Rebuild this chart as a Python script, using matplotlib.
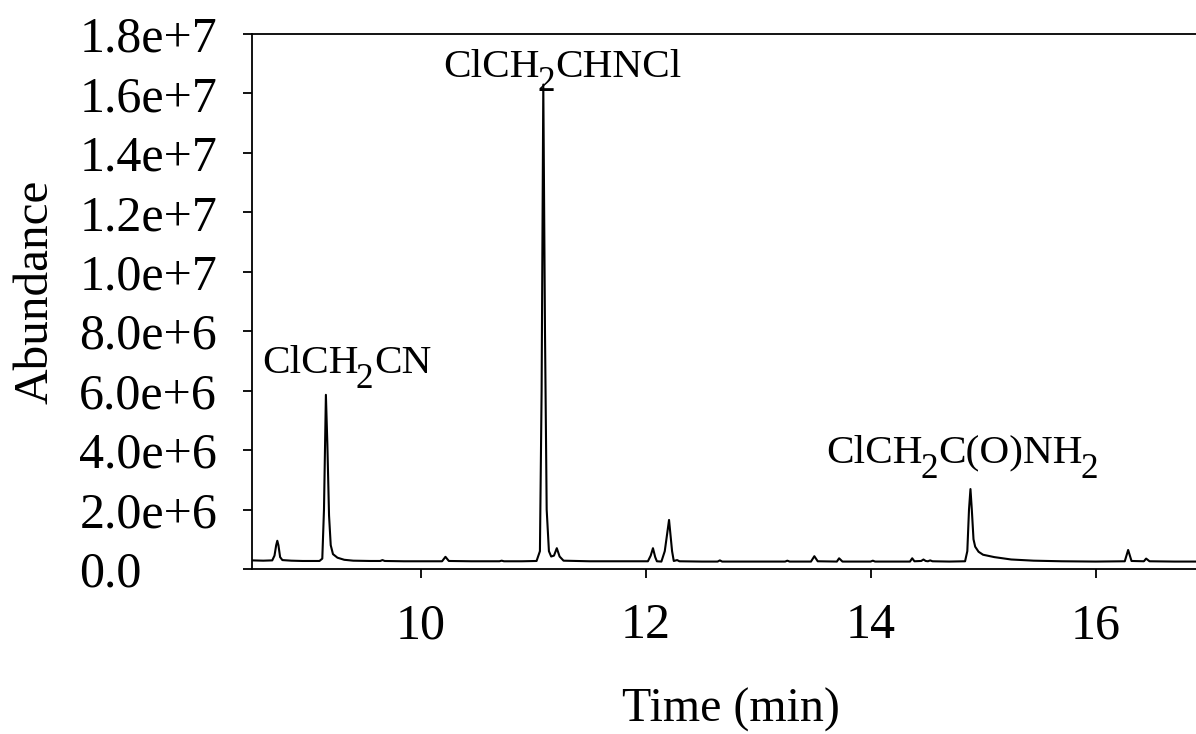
import matplotlib
matplotlib.use("Agg")
import matplotlib.pyplot as plt
import numpy as np

time_min = [
    8.50, 8.60, 8.68, 8.70, 8.715, 8.725, 8.735, 8.75, 8.77, 8.85, 8.95, 9.05,
    9.10, 9.125, 9.14, 9.157, 9.17, 9.185, 9.20, 9.22, 9.26, 9.32, 9.40, 9.55,
    9.64, 9.66, 9.68, 9.85, 10.05, 10.19, 10.22, 10.25, 10.45, 10.70, 10.72, 10.74, 10.90,
    11.03, 11.06, 11.075, 11.09, 11.105, 11.12, 11.14, 11.16, 11.185, 11.21, 11.235, 11.27,
    11.50, 11.80, 12.02, 12.045, 12.065, 12.085, 12.10, 12.14, 12.17, 12.208, 12.235, 12.25,
    12.28, 12.30, 12.50, 12.64, 12.66, 12.68, 13.00, 13.24, 13.26, 13.28,
    13.47, 13.50, 13.53, 13.70, 13.72, 13.75, 14.00, 14.02, 14.04, 14.20,
    14.35, 14.37, 14.39, 14.45, 14.47, 14.49, 14.51, 14.53, 14.55, 14.70,
    14.84, 14.86, 14.875, 14.888, 14.90, 14.915, 14.93, 14.96, 15.00, 15.10,
    15.25, 15.45, 15.70, 16.00, 16.26, 16.29, 16.32, 16.43, 16.45, 16.48, 16.70, 17.00,
]
abundance_e6 = [
    0.29, 0.28, 0.29, 0.45, 0.80, 0.95, 0.80, 0.40, 0.30, 0.28, 0.27, 0.27,
    0.27, 0.35, 2.00, 5.86, 4.20, 1.80, 0.80, 0.50, 0.38, 0.31, 0.28, 0.27,
    0.27, 0.30, 0.27, 0.26, 0.26, 0.26, 0.41, 0.27, 0.26, 0.26, 0.28, 0.26, 0.26,
    0.27, 0.60, 6.00, 16.30, 8.00, 2.00, 0.60, 0.42, 0.45, 0.70, 0.42, 0.28,
    0.26, 0.26, 0.26, 0.45, 0.70, 0.40, 0.26, 0.25, 0.60, 1.65, 0.60, 0.27,
    0.30, 0.26, 0.25, 0.25, 0.29, 0.25, 0.25, 0.25, 0.28, 0.25,
    0.25, 0.43, 0.26, 0.25, 0.36, 0.25, 0.25, 0.28, 0.25, 0.25,
    0.25, 0.36, 0.26, 0.27, 0.32, 0.27, 0.26, 0.29, 0.26, 0.25,
    0.26, 0.60, 2.00, 2.69, 2.00, 1.00, 0.75, 0.58, 0.48, 0.40,
    0.32, 0.28, 0.26, 0.25, 0.26, 0.64, 0.27, 0.26, 0.35, 0.26, 0.25, 0.25,
]

x_ticks = [10, 12, 14, 16]
y_tick_values = [0, 2e6, 4e6, 6e6, 8e6, 1.0e7, 1.2e7, 1.4e7, 1.6e7, 1.8e7]
y_tick_labels = ["0.0", "2.0e+6", "4.0e+6", "6.0e+6", "8.0e+6",
                 "1.0e+7", "1.2e+7", "1.4e+7", "1.6e+7", "1.8e+7"]

# Peak labels as (text, is_subscript) pieces
peak_labels = [
    [("ClCH", False), ("2", True), ("CN", False)],
    [("ClCH", False), ("2", True), ("CHNCl", False)],
    [("ClCH", False), ("2", True), ("C(O)NH", False), ("2", True)],
]
label_x = [8.588, 10.203, 13.608]        # left edge (min)
label_y = [6.58e6, 16.56e6, 3.56e6]      # baseline (abundance)

plt.rcParams["font.family"] = ["Liberation Serif", "DejaVu Serif"]

W, H = 1196, 734
fig = plt.figure(figsize=(W / 100, H / 100), dpi=100)
ax = fig.add_axes([252 / W, (H - 569) / H, 956 / W, 535 / H])

ax.plot(time_min, np.array(abundance_e6) * 1e6, color="black", lw=1.5)

ax.set_xlim(8.5, 17.0)
ax.set_ylim(0, 1.8e7)
ax.set_xticks(x_ticks)
ax.set_xticklabels([str(v) for v in x_ticks])
ax.set_yticks(y_tick_values)
ax.set_yticklabels(y_tick_labels)

ax.tick_params(axis="both", direction="out", length=6.3, width=1.3,
               labelsize=36, top=False, right=False)
# left-aligned y tick labels starting at x ~ 79 px
ax.tick_params(axis="y", pad=(243 - 79) * 0.72)
for lab in ax.get_yticklabels():
    lab.set_horizontalalignment("left")
ax.tick_params(axis="x", pad=18)
for s in ax.spines.values():
    s.set_linewidth(1.3)

ax.set_xlabel("Time (min)", fontsize=34.5)
ax.xaxis.set_label_coords(0.5005, -0.222)
ax.set_ylabel("Abundance", fontsize=35.5)
ax.yaxis.set_label_coords(-0.203, 0.5187)

MAIN_FS = 29.7
SUB_FS = 25.5
SUB_DROP = 10.5  # points

for pieces, xv, yv in zip(peak_labels, label_x, label_y):
    prev = None
    for txt, is_sub in pieces:
        if prev is None:
            prev = ax.text(xv, yv, txt, fontsize=MAIN_FS, ha="left", va="baseline")
        else:
            prev = ax.annotate(
                txt, xy=(1.0, yv), xycoords=(prev, "data"),
                xytext=(-2.0 if is_sub else 0.5, -SUB_DROP if is_sub else 0),
                textcoords="offset points",
                fontsize=SUB_FS if is_sub else MAIN_FS, ha="left", va="baseline")

fig.savefig("out.png", dpi=100)
